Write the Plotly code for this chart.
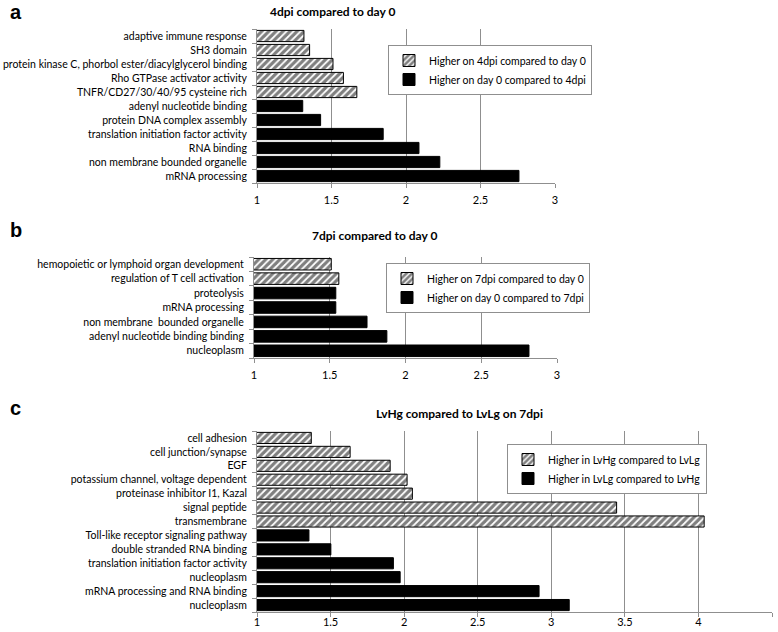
import plotly.graph_objects as go

W, H = 778, 632

# ---------- data ----------
a_labels = ["adaptive immune response", "SH3 domain",
            "protein kinase C, phorbol ester/diacylglycerol binding",
            "Rho GTPase activator activity", "TNFR/CD27/30/40/95 cysteine rich",
            "adenyl nucleotide binding", "protein DNA complex assembly",
            "translation initiation factor activity", "RNA binding",
            "non membrane bounded organelle", "mRNA processing"]
a_up = [1.315, 1.353, 1.51, 1.58, 1.67]
a_down = [1.307, 1.427, 1.847, 2.087, 2.227, 2.758]

b_labels = ["hemopoietic or lymphoid organ development", "regulation of T cell activation",
            "proteolysis", "mRNA processing", "non membrane  bounded organelle",
            "adenyl nucleotide binding binding", "nucleoplasm"]
b_up = [1.51, 1.56]
b_down = [1.54, 1.54, 1.746, 1.877, 2.815]

c_labels = ["cell adhesion", "cell junction/synapse", "EGF",
            "potassium channel, voltage dependent", "proteinase inhibitor I1, Kazal",
            "signal peptide", "transmembrane", "Toll-like receptor signaling pathway",
            "double stranded RNA binding", "translation initiation factor activity",
            "nucleoplasm", "mRNA processing and RNA binding", "nucleoplasm"]
c_up = [1.369, 1.633, 1.905, 2.02, 2.056, 3.444, 4.039]
c_down = [1.353, 1.502, 1.927, 1.973, 2.917, 3.122]

titles = ["4dpi compared to day 0", "7dpi compared to day 0", "LvHg compared to LvLg on 7dpi"]
legend_up = ["Higher on 4dpi compared to day 0", "Higher on 7dpi compared to day 0",
             "Higher in LvHg compared to LvLg"]
legend_down = ["Higher on day 0 compared to 4dpi", "Higher on day 0 compared to 7dpi",
               "Higher in LvLg compared to LvHg"]
panel_letters = ["a", "b", "c"]
x_ticks_ac = [1, 1.5, 2, 2.5, 3]
x_ticks_c = [1, 1.5, 2, 2.5, 3, 3.5, 4, 4.5]

FONT = "Lato, Liberation Sans, Arial"
GRID = "#8f8f8f"

# ---------- layout geometry (pixels) ----------
panels = [
    dict(labels=a_labels, up=a_up, down=a_down, xr=[1, 3], ticks=x_ticks_ac,
         px=(257, 555), py=(29, 183), leg=(388, 45), title=(332, 12), letter=(8, 12),
         xstand=3),
    dict(labels=b_labels, up=b_up, down=b_down, xr=[1, 3], ticks=x_ticks_ac,
         px=(254, 557), py=(257, 358), leg=(386, 263), title=(374, 235), letter=(8, 230),
         xstand=3),
    dict(labels=c_labels, up=c_up, down=c_down, xr=[1, 4.5], ticks=x_ticks_c,
         px=(257, 772), py=(431, 612), leg=(507, 444), title=(460, 413), letter=(8, 408),
         xstand=-4),
]

fig = go.Figure()
annotations = []
for i, p in enumerate(panels):
    k = "" if i == 0 else str(i + 1)
    n = len(p["labels"])
    nu = len(p["up"])
    ypos_up = list(range(nu))
    ypos_down = list(range(nu, n))
    leg = "legend" + k
    fig.add_trace(go.Bar(
        x=p["up"], y=ypos_up, orientation="h", base=0, name=legend_up[i],
        xaxis="x" + k, yaxis="y" + k, legend=leg, width=0.8,
        marker=dict(color="white", line=dict(color="black", width=1),
                    pattern=dict(shape="/", fgcolor="black", bgcolor="white",
                                 size=5, solidity=0.65)),
        hoverinfo="x+y"))
    fig.add_trace(go.Bar(
        x=p["down"], y=ypos_down, orientation="h", base=0, name=legend_down[i],
        xaxis="x" + k, yaxis="y" + k, legend=leg, width=0.8,
        marker=dict(color="black", line=dict(color="black", width=1)),
        hoverinfo="x+y"))

    x0, x1 = p["px"]
    y0, y1 = p["py"]
    fig.update_layout(**{
        "xaxis" + k: dict(domain=[x0 / W, x1 / W], range=p["xr"], anchor="y" + k,
                          tickvals=p["ticks"], ticktext=[f"{t:g}" for t in p["ticks"]],
                          showgrid=True, gridcolor=GRID, gridwidth=1,
                          showline=True, linecolor=GRID, linewidth=1,
                          ticks="outside", ticklen=4, tickcolor=GRID,
                          ticklabelstandoff=p["xstand"],
                          tickfont=dict(family=FONT, size=11, color="black"),
                          zeroline=False, fixedrange=True, automargin=False),
        "yaxis" + k: dict(domain=[1 - y1 / H, 1 - y0 / H], range=[n - 0.5, -0.5],
                          anchor="x" + k, tickvals=list(range(n)), ticktext=p["labels"],
                          ticks="", showgrid=False, zeroline=False,
                          showline=True, linecolor=GRID, linewidth=1,
                          minor=dict(tickvals=[j - 0.5 for j in range(n + 1)],
                                     ticks="outside", ticklen=4, tickcolor=GRID,
                                     showgrid=False),
                          ticklabelstandoff=7,
                          tickfont=dict(family=FONT, size=10.5, color="black"),
                          fixedrange=True, automargin=False),
        leg: dict(x=p["leg"][0] / W, y=1 - p["leg"][1] / H, xanchor="left", yanchor="top",
                  bgcolor="white", bordercolor=GRID, borderwidth=1,
                  font=dict(family=FONT, size=10.5, color="black"),
                  traceorder="normal", itemwidth=30, tracegroupgap=0),
    })
    annotations.append(dict(x=p["title"][0] / W, y=1 - p["title"][1] / H, xref="paper",
                            yref="paper", text="<b>" + titles[i] + "</b>", showarrow=False,
                            xanchor="center", yanchor="middle",
                            font=dict(family=FONT, size=12, color="black")))
    annotations.append(dict(x=p["letter"][0] / W, y=1 - p["letter"][1] / H, xref="paper",
                            yref="paper", text="<b>" + panel_letters[i] + "</b>",
                            showarrow=False, xanchor="left", yanchor="middle",
                            font=dict(family="Liberation Sans, Arial", size=20, color="black")))

fig.update_layout(width=W, height=H, margin=dict(l=0, r=0, t=0, b=0, autoexpand=False),
                  paper_bgcolor="white", plot_bgcolor="white",
                  bargap=0.2, barmode="overlay", showlegend=True,
                  annotations=annotations)

fig.write_html("out.html", config={"displayModeBar": False},
               post_script="document.body.style.margin='0px';")
